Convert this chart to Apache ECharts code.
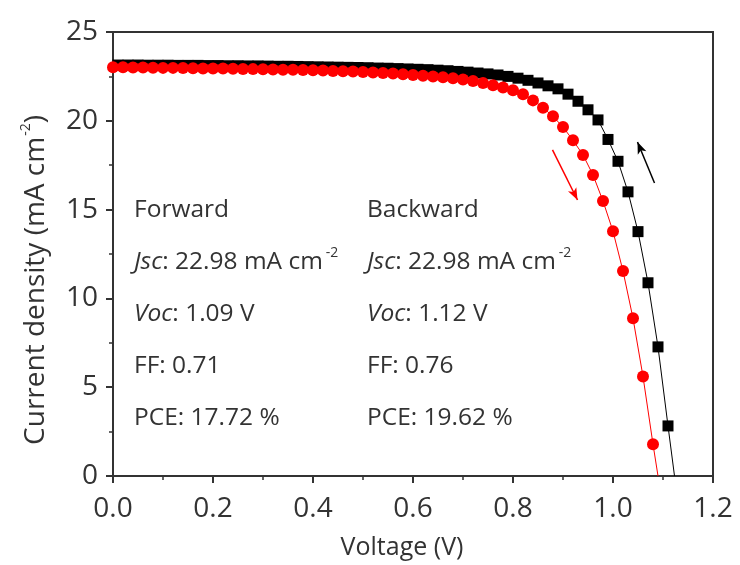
<!DOCTYPE html>
<html>
<head>
<meta charset="utf-8">
<script src="https://cdn.jsdelivr.net/npm/echarts@6/dist/echarts.min.js"></script>
<style>
  html, body { margin: 0; padding: 0; background: #fff; }
  #chart { width: 740px; height: 565px; }
</style>
</head>
<body>
<div id="chart"></div>
<script>
// forward scan (red circles), even hundredths of a volt
const fwdV = [0.00, 0.02, 0.04, 0.06, 0.08, 0.10, 0.12, 0.14, 0.16, 0.18,
  0.20, 0.22, 0.24, 0.26, 0.28, 0.30, 0.32, 0.34, 0.36, 0.38,
  0.40, 0.42, 0.44, 0.46, 0.48, 0.50, 0.52, 0.54, 0.56, 0.58,
  0.60, 0.62, 0.64, 0.66, 0.68, 0.70, 0.72, 0.74, 0.76, 0.78,
  0.80, 0.82, 0.84, 0.86, 0.88, 0.90, 0.92, 0.94, 0.96, 0.98,
  1.00, 1.02, 1.04, 1.06, 1.08];
const fwdJ = [23.02, 23.01, 23.00, 23.00, 22.99, 22.98, 22.98, 22.97, 22.96, 22.95,
  22.95, 22.94, 22.93, 22.92, 22.91, 22.90, 22.89, 22.88, 22.87, 22.86,
  22.84, 22.83, 22.81, 22.79, 22.77, 22.75, 22.72, 22.69, 22.66, 22.62,
  22.58, 22.54, 22.50, 22.45, 22.39, 22.32, 22.24, 22.13, 22.00, 21.88,
  21.72, 21.50, 21.15, 20.74, 20.25, 19.65, 18.90, 18.08, 16.95, 15.48,
  13.78, 11.54, 8.88, 5.60, 1.79];
const fwdEnd = [1.09, 0];

// backward scan (black squares), odd hundredths of a volt
const bwdV = [0.01, 0.03, 0.05, 0.07, 0.09, 0.11, 0.13, 0.15, 0.17, 0.19,
  0.21, 0.23, 0.25, 0.27, 0.29, 0.31, 0.33, 0.35, 0.37, 0.39,
  0.41, 0.43, 0.45, 0.47, 0.49, 0.51, 0.53, 0.55, 0.57, 0.59,
  0.61, 0.63, 0.65, 0.67, 0.69, 0.71, 0.73, 0.75, 0.77, 0.79,
  0.81, 0.83, 0.85, 0.87, 0.89, 0.91, 0.93, 0.95, 0.97, 0.99,
  1.01, 1.03, 1.05, 1.07, 1.09, 1.11];
const bwdJ = [23.14, 23.14, 23.14, 23.13, 23.13, 23.13, 23.12, 23.12, 23.12, 23.11,
  23.11, 23.10, 23.10, 23.09, 23.09, 23.08, 23.07, 23.07, 23.06, 23.05,
  23.04, 23.03, 23.02, 23.01, 23.00, 22.99, 22.97, 22.96, 22.94, 22.92,
  22.90, 22.88, 22.85, 22.82, 22.78, 22.74, 22.69, 22.64, 22.58, 22.50,
  22.40, 22.28, 22.13, 21.97, 21.80, 21.50, 21.10, 20.62, 20.05, 18.95,
  17.72, 16.00, 13.76, 10.88, 7.27, 2.82];
const bwdEnd = [1.123, 0];

// scan-direction arrows [tail, head]
const fwdArrow = [[0.879, 18.36], [0.929, 15.54]];
const bwdArrow = [[1.083, 16.50], [1.049, 18.81]];

const fwdStats = ['Forward', '{i|Jsc}: 22.98 mA cm{s|-2}', '{i|Voc}: 1.09 V', 'FF: 0.71', 'PCE: 17.72 %'];
const bwdStats = ['Backward', '{i|Jsc}: 22.98 mA cm{s|-2}', '{i|Voc}: 1.12 V', 'FF: 0.76', 'PCE: 19.62 %'];

const FONT = 'Open Sans';
const TXT = '#333';

const chart = echarts.init(document.getElementById('chart'));

const pairs = (xs, ys) => xs.map((x, i) => [x, ys[i]]);

const richStyle = {
  i: { fontStyle: 'italic', fontFamily: FONT, fontSize: 24.5, color: TXT },
  s: { fontSize: 14, fontFamily: FONT, color: TXT, verticalAlign: 'top', lineHeight: 32, padding: [0, 0, 17, 3] }
};

const statText = (lines, left) => lines.map((t, k) => ({
  type: 'text',
  x: left,
  y: 210 + k * 52,
  style: {
    text: t,
    fontFamily: FONT,
    fontSize: 24.5,
    fill: TXT,
    align: 'left',
    verticalAlign: 'middle',
    rich: richStyle
  }
}));

const arrowLine = (arr, color) => ({
  silent: true,
  animation: false,
  symbol: ['none', 'arrow'],
  symbolSize: [7, 12],
  label: { show: false },
  lineStyle: { color: color, width: 1.5, type: 'solid' },
  data: [[{ coord: arr[0] }, { coord: arr[1] }]]
});

const option = {
  animation: false,
  grid: {
    left: 113, right: 27, top: 32, bottom: 89,
    show: true, borderColor: '#333', borderWidth: 2
  },
  xAxis: {
    type: 'value',
    min: 0, max: 1.2, interval: 0.2,
    name: 'Voltage (V)',
    nameLocation: 'middle',
    nameGap: 59,
    nameTextStyle: { fontFamily: FONT, fontSize: 25, color: TXT, padding: [0, 22, 0, 0] },
    axisLine: { lineStyle: { color: '#333', width: 2 } },
    axisTick: { show: true, length: 7, lineStyle: { color: '#333', width: 2 } },
    minorTick: { show: true, splitNumber: 2, length: 4, lineStyle: { color: '#333', width: 1.5 } },
    splitLine: { show: false },
    axisLabel: {
      fontFamily: FONT, fontSize: 28, color: TXT, margin: 19,
      formatter: v => v.toFixed(1)
    }
  },
  yAxis: {
    type: 'value',
    min: 0, max: 25, interval: 5,
    name: '{n|Current density (mA cm}{s|-2}{n|)}',
    nameLocation: 'middle',
    nameGap: 60,
    nameRotate: 90,
    nameTextStyle: {
      fontFamily: FONT, fontSize: 28, color: TXT,
      padding: [0, 52, 0, 0],
      rich: {
        n: { fontFamily: FONT, fontSize: 28, color: TXT },
        s: { fontFamily: FONT, fontSize: 14, color: TXT, verticalAlign: 'top', lineHeight: 34, padding: [0, 0, 18, 1] }
      }
    },
    axisLine: { lineStyle: { color: '#333', width: 2 } },
    axisTick: { show: true, length: 7, lineStyle: { color: '#333', width: 2 } },
    minorTick: { show: true, splitNumber: 2, length: 4, lineStyle: { color: '#333', width: 1.5 } },
    splitLine: { show: false },
    axisLabel: { fontFamily: FONT, fontSize: 28, color: TXT, margin: 15 }
  },
  series: [
    {
      name: 'Backward',
      type: 'line',
      data: pairs(bwdV, bwdJ).concat([{ value: bwdEnd, symbol: 'none' }]),
      symbol: 'rect',
      symbolSize: 11,
      itemStyle: { color: '#000' },
      lineStyle: { color: '#000', width: 1 },
      z: 2,
      markLine: arrowLine(bwdArrow, '#000')
    },
    {
      name: 'Forward',
      type: 'line',
      data: pairs(fwdV, fwdJ).concat([{ value: fwdEnd, symbol: 'none' }]),
      symbol: 'circle',
      symbolSize: 12,
      itemStyle: { color: '#ff0000' },
      lineStyle: { color: '#ff0000', width: 1 },
      z: 3,
      markLine: arrowLine(fwdArrow, '#ff0000')
    }
  ],
  graphic: statText(fwdStats, 134).concat(statText(bwdStats, 367))
};

chart.setOption(option);
</script>
</body>
</html>
